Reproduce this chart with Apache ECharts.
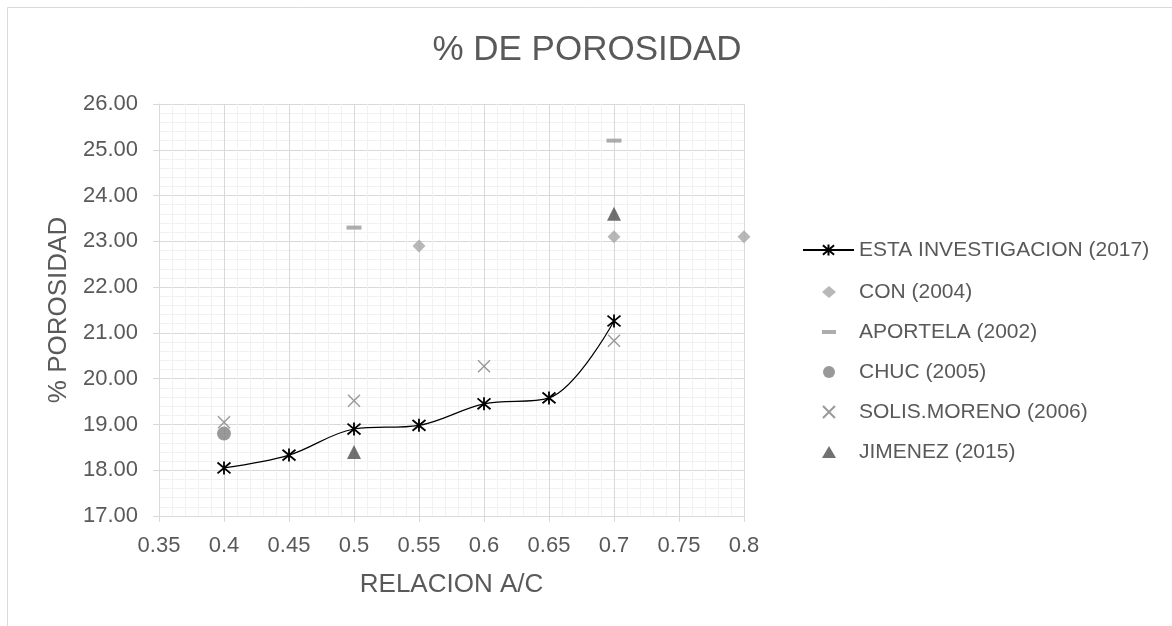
<!DOCTYPE html>
<html><head><meta charset="utf-8">
<script src="https://cdn.jsdelivr.net/npm/echarts@6/dist/echarts.min.js"></script>
<style>html,body{margin:0;padding:0;background:#fff}#c{width:1172px;height:626px}</style>
</head><body><div id="c"></div>
<script>
const xEsta = [0.4, 0.45, 0.5, 0.55, 0.6, 0.65, 0.7];
const yEsta = [18.05, 18.33, 18.9, 18.98, 19.45, 19.58, 21.26];
const xCon = [0.55, 0.7, 0.8];
const yCon = [22.9, 23.1, 23.1];
const xAportela = [0.5, 0.7];
const yAportela = [23.3, 25.2];
const xChuc = [0.4];
const yChuc = [18.8];
const xSolis = [0.4, 0.5, 0.6, 0.7];
const ySolis = [19.05, 19.52, 20.27, 20.83];
const xJimenez = [0.5, 0.7];
const yJimenez = [18.4, 23.6];
const names = ['ESTA INVESTIGACION (2017)', 'CON (2004)', 'APORTELA (2002)', 'CHUC (2005)', 'SOLIS.MORENO (2006)', 'JIMENEZ (2015)'];

const pair = (xs, ys) => xs.map((x, i) => [x, ys[i]]);
const asterisk = 'path://M0,0L10,10M10,0L0,10M5,-1L5,11';
const cross = 'path://M0,0L10,10M10,0L0,10';
const dash = 'path://M0,0L14,0L14,4L0,4Z';
const font = 'Liberation Sans, Arial, sans-serif';
const txt = '#595959';

const chart = echarts.init(document.getElementById('c'), null, {renderer: 'canvas'});
chart.setOption({
  animation: false,
  backgroundColor: '#fff',
  graphic: [{type: 'rect', shape: {x: 7.5, y: 7.5, width: 1170, height: 650}, style: {fill: 'none', stroke: '#d9d9d9', lineWidth: 1}, z: -10}],
  title: {text: '% DE POROSIDAD', left: 582, top: 28, textAlign: 'center',
    textStyle: {fontFamily: font, fontSize: 35, fontWeight: 'normal', color: txt}},
  grid: {left: 159, top: 104, width: 585, height: 412, containLabel: false},
  legend: [{
    orient: 'vertical', left: 797, top: 233, itemWidth: 51, itemHeight: 14,
    textStyle: {fontFamily: font, fontSize: 21, color: txt, lineHeight: 24},
    data: [names[0]]
  }, {
    orient: 'vertical', left: 817, top: 275, itemGap: 16, itemWidth: 14, itemHeight: 12,
    textStyle: {fontFamily: font, fontSize: 21, color: txt, lineHeight: 24, padding: [0, 0, 0, 18]},
    data: [
      {name: names[1], icon: 'diamond'},
      {name: names[2], icon: dash},
      {name: names[3], icon: 'circle'},
      {name: names[4]},
      {name: names[5], icon: 'triangle'}
    ]
  }],
  xAxis: {
    type: 'value', min: 0.35, max: 0.8, interval: 0.05,
    name: 'RELACION A/C', nameLocation: 'middle', nameGap: 56,
    nameTextStyle: {fontFamily: font, fontSize: 26, color: txt},
    axisLine: {show: true, lineStyle: {color: '#d9d9d9'}},
    axisTick: {show: true, length: 6, lineStyle: {color: '#d9d9d9'}},
    axisLabel: {fontFamily: font, fontSize: 22, color: txt, margin: 19,
      formatter: v => String(+v.toFixed(2))},
    splitLine: {show: true, lineStyle: {color: '#d9d9d9'}},
    minorTick: {show: false, splitNumber: 5},
    minorSplitLine: {show: true, lineStyle: {color: '#f2f2f2'}}
  },
  yAxis: {
    type: 'value', min: 17, max: 26, interval: 1,
    name: '% POROSIDAD', nameLocation: 'middle', nameGap: 87,
    nameTextStyle: {fontFamily: font, fontSize: 26, color: txt},
    axisLine: {show: true, lineStyle: {color: '#d9d9d9'}},
    axisTick: {show: true, length: 6, lineStyle: {color: '#d9d9d9'}},
    axisLabel: {fontFamily: font, fontSize: 22, color: txt, margin: 21,
      formatter: v => v.toFixed(2)},
    splitLine: {show: true, lineStyle: {color: '#d9d9d9'}},
    minorTick: {show: false, splitNumber: 5},
    minorSplitLine: {show: true, lineStyle: {color: '#f2f2f2'}}
  },
  series: [
    {name: names[0], type: 'line', smooth: 0.35, data: pair(xEsta, yEsta),
      symbol: asterisk, symbolSize: 13, z: 5,
      lineStyle: {color: '#000', width: 1.2},
      itemStyle: {color: '#000', borderColor: '#000', borderWidth: 1.8}},
    {name: names[1], type: 'scatter', data: pair(xCon, yCon),
      symbol: 'diamond', symbolSize: 13, itemStyle: {color: '#a6a6a6'}},
    {name: names[2], type: 'scatter', data: pair(xAportela, yAportela),
      symbol: 'rect', symbolSize: [15, 4], itemStyle: {color: '#999999'}},
    {name: names[3], type: 'scatter', data: pair(xChuc, yChuc),
      symbol: 'circle', symbolSize: 14, itemStyle: {color: '#7f7f7f'}},
    {name: names[4], type: 'scatter', data: pair(xSolis, ySolis),
      symbol: cross, symbolSize: 12,
      itemStyle: {color: '#7f7f7f', borderColor: '#7f7f7f', borderWidth: 1.4}},
    {name: names[5], type: 'scatter', data: pair(xJimenez, yJimenez),
      symbol: 'triangle', symbolSize: 14, itemStyle: {color: '#4d4d4d'}}
  ]
});
</script></body></html>
